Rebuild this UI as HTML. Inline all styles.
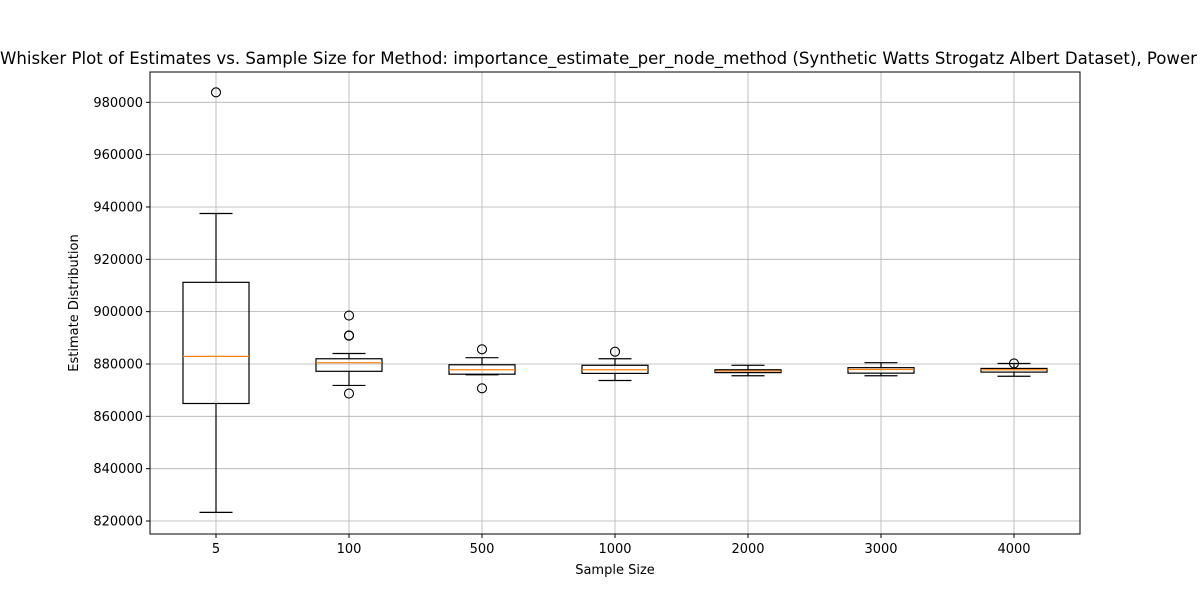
<!DOCTYPE html>
<html><head><meta charset="utf-8"><style>
html,body{margin:0;padding:0;background:#fff;}
svg{display:block;font-family:"DejaVu Sans","Liberation Sans",sans-serif;}
</style></head><body>
<svg id="chart" width="1200" height="600" viewBox="0 0 1200 600"></svg>
<script>
const categories = ["5","100","500","1000","2000","3000","4000"];
const whiskLow = [823300,871800,875900,873700,875500,875500,875300];
const q1Vals   = [864900,877200,876100,876400,876700,876500,876900];
const medians  = [882900,880500,877800,877800,877300,877900,877800];
const q3Vals   = [911200,882000,879700,879500,877800,878600,878300];
const whiskHigh= [937500,884000,882400,882000,879500,880500,880200];
const fliers   = [[983800],[898500,890900,890800,868700],[885600,870700],[884700],[],[],[880200]];
const yTicks = [820000,840000,860000,880000,900000,920000,940000,960000,980000];

const L=150,R=1080,T=72,B=534;
const NS="http://www.w3.org/2000/svg";
const svg=document.getElementById('chart');
function y(v){return 102.3+(980000-v)*(521-102.3)/160000;}
function x(i){return 216+i*(1014-216)/6;}
function mk(tag,attrs,parent){const e=document.createElementNS(NS,tag);for(const k in attrs)e.setAttribute(k,attrs[k]);(parent||svg).appendChild(e);return e;}

yTicks.forEach((t,i)=>{
  const g=mk('line',{x1:L,x2:R,y1:y(t),y2:y(t),stroke:'#b0b0b0','stroke-width':0.8});
  
  
});
categories.forEach((c,i)=>{
  const g=mk('line',{x1:x(i),x2:x(i),y1:T,y2:B,stroke:'#b0b0b0','stroke-width':0.8});
  
  
});
const hw=33, cw=16.5;
categories.forEach((c,i)=>{
  const g=mk('g',{});
  
  
  const cx=x(i);
  mk('line',{x1:cx,x2:cx,y1:y(q1Vals[i]),y2:y(whiskLow[i]),stroke:'#000','stroke-width':1.2},g);
  mk('line',{x1:cx,x2:cx,y1:y(q3Vals[i]),y2:y(whiskHigh[i]),stroke:'#000','stroke-width':1.2},g);
  mk('line',{x1:cx-cw,x2:cx+cw,y1:y(whiskLow[i]),y2:y(whiskLow[i]),stroke:'#000','stroke-width':1.2},g);
  mk('line',{x1:cx-cw,x2:cx+cw,y1:y(whiskHigh[i]),y2:y(whiskHigh[i]),stroke:'#000','stroke-width':1.2},g);
  mk('rect',{x:cx-hw,y:y(q3Vals[i]),width:2*hw,height:Math.max(0.5,y(q1Vals[i])-y(q3Vals[i])),fill:'none',stroke:'#000','stroke-width':1.2},g);
  mk('line',{x1:cx-hw,x2:cx+hw,y1:y(medians[i]),y2:y(medians[i]),stroke:'#ff7f0e','stroke-width':1.2},g);
  fliers[i].forEach(f=>{
    const o=mk('circle',{cx:cx,cy:y(f),r:4.5,fill:'none',stroke:'#000','stroke-width':1.1},g);
    
    
  });
});
const fr=mk('rect',{x:L,y:T,width:R-L,height:B-T,fill:'none',stroke:'#000','stroke-width':1});


yTicks.forEach(t=>{
  mk('line',{x1:L-4,x2:L,y1:y(t),y2:y(t),stroke:'#000','stroke-width':1});
  const tx=mk('text',{x:L-7,y:y(t)+4.5,'text-anchor':'end','font-size':13,fill:'#000'});
  tx.textContent=t;
  
  
});
categories.forEach((c,i)=>{
  mk('line',{x1:x(i),x2:x(i),y1:B,y2:B+4,stroke:'#000','stroke-width':1});
  const tx=mk('text',{x:x(i),y:B+19,'text-anchor':'middle','font-size':13,fill:'#000'});
  tx.textContent=c;
  
  
});
</script>
<svg style="position:absolute;left:0;top:0" width="1200" height="600">
<text x="-4" y="64" text-anchor="end" font-size="16.5" font-family="DejaVu Sans, Liberation Sans, sans-serif">Box and</text>
<text x="0" y="64" font-size="16.5" textLength="1197" lengthAdjust="spacingAndGlyphs" font-family="DejaVu Sans, Liberation Sans, sans-serif">Whisker Plot of Estimates vs. Sample Size for Method: importance_estimate_per_node_method (Synthetic Watts Strogatz Albert Dataset), Power</text>
<text x="615" y="574" text-anchor="middle" font-size="13" font-family="DejaVu Sans, Liberation Sans, sans-serif">Sample Size</text>
<text x="78" y="303" text-anchor="middle" font-size="13" font-family="DejaVu Sans, Liberation Sans, sans-serif" transform="rotate(-90 78 303)">Estimate Distribution</text>
</svg>
</body></html>
